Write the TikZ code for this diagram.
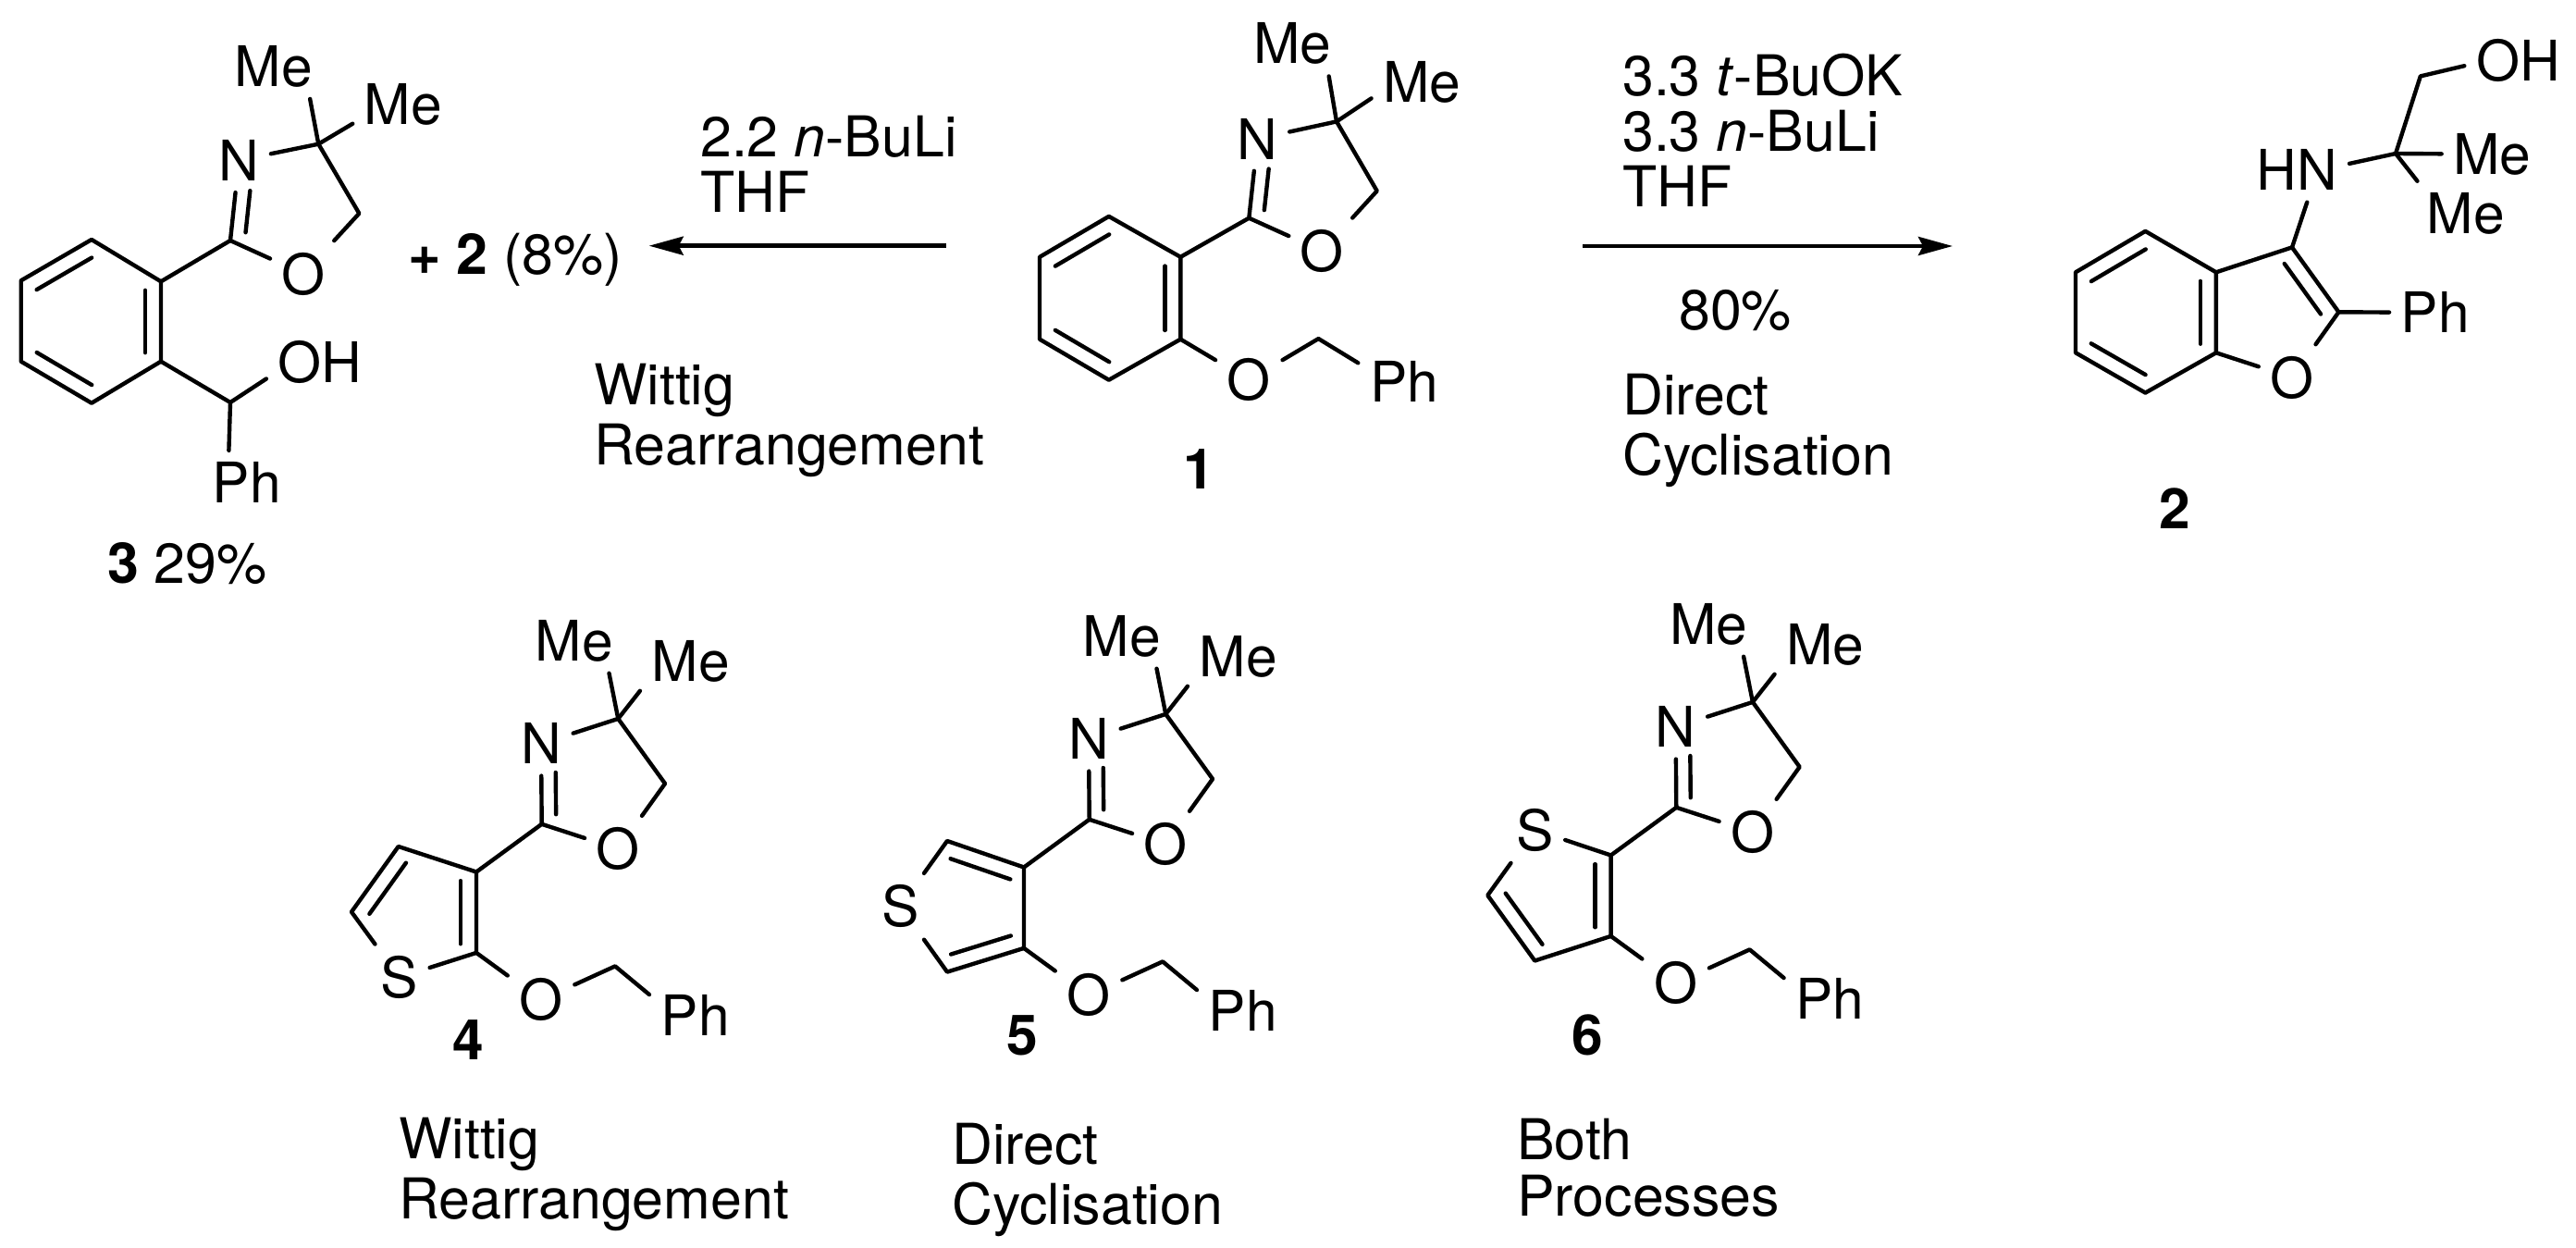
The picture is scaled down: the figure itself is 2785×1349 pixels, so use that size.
\documentclass[tikz,border=0pt]{standalone}
\usepackage{fontspec}
\setmainfont{TeX Gyre Heros}
\usetikzlibrary{arrows.meta, calc}

\begin{document}
\begin{tikzpicture}[x=0.01cm, y=-0.01cm, line width=1.25pt,
    bond/.style={line join=round, line cap=round},
    rxnarrow/.style={-{Stealth[length=0.37cm, width=0.2cm, inset=0.05cm]}},
    atom/.style={font=\fontsize{17.2}{20}\selectfont, inner sep=3pt},
    cmpd/.style={font=\fontsize{17.2}{20}\selectfont\bfseries, inner sep=0pt},
    note/.style={font=\fontsize{17.3}{17.07}\selectfont, align=left, inner sep=0pt, anchor=base west}]
    \useasboundingbox (0, 0) rectangle (2785, 1349);

    \coordinate (b31) at (99, 259);
    \coordinate (b32) at (174, 304.3);
    \coordinate (b33) at (174, 390.7);
    \coordinate (b34) at (99, 435.7);
    \coordinate (b35) at (22.7, 390.7);
    \coordinate (b36) at (22.7, 303.3);
    \coordinate (C3) at (249, 260);
    \coordinate (Cq3) at (344.3, 155.7);
    \coordinate (Cm3) at (388.3, 230.7);
    \coordinate (Ch3) at (249, 435);
    \node[atom] (N3) at (258.3, 173.3) {N};
    \node[atom] (O3) at (328.3, 296) {O};
    \node[atom] (Mea3) at (296, 71.7) {Me};
    \node[atom] (Meb3) at (436, 112.7) {Me};
    \node[atom] (OH3) at (346, 391.7) {OH};
    \node[atom] (Ph3) at (266.7, 521.7) {Ph};
    \draw[bond] (b31) -- (b32) -- (b33) -- (b34) -- (b35) -- (b36) -- cycle;
    \draw[bond] (b32) -- (C3) -- (N3);
    \draw[bond] (N3) -- (Cq3) -- (Cm3) -- (O3) -- (C3);
    \draw[bond] (Cq3) -- (Mea3.-42);
    \draw[bond] (Cq3) -- (Meb3.201);
    \draw[bond] (b33) -- (Ch3) -- (OH3.197);
    \draw[bond] (Ch3) -- (Ph3.119);
    \node[note] (yield3) at (114, 630) {\textbf{3} 29\%};
    \node[note] (plus2) at (439, 297) {\textbf{+ 2} (8\%)};

    \coordinate (b11) at (1198.8, 233.9);
    \coordinate (b12) at (1276.3, 277.8);
    \coordinate (b13) at (1276.3, 366.7);
    \coordinate (b14) at (1198.8, 410.7);
    \coordinate (b15) at (1124, 366.7);
    \coordinate (b16) at (1124, 277.8);
    \coordinate (C1) at (1350.3, 235.7);
    \coordinate (Cq1) at (1445, 131.4);
    \coordinate (Cm1) at (1488.7, 206.4);
    \coordinate (Cb1) at (1425.4, 366.1);
    \node[atom] (N1) at (1359.6, 150) {N};
    \node[atom] (O1) at (1429.5, 271.4) {O};
    \node[atom] (Mea1) at (1397.5, 47.2) {Me};
    \node[atom] (Meb1) at (1537.3, 88.6) {Me};
    \node[atom] (Oe1) at (1350.3, 410.7) {O};
    \node[atom] (Ph1) at (1518, 412.4) {Ph};
    \node[cmpd] (num1) at (1296.3, 507) {1};
    \draw[bond] (b11) -- (b12) -- (b13) -- (b14) -- (b15) -- (b16) -- cycle;
    \draw[bond] (b12) -- (C1) -- (N1);
    \draw[bond] (N1) -- (Cq1) -- (Cm1) -- (O1) -- (C1);
    \draw[bond] (Cq1) -- (Mea1.-42);
    \draw[bond] (Cq1) -- (Meb1.198);
    \draw[bond] (b13) -- (Oe1) -- (Cb1) -- (Ph1.158);

    \coordinate (b21) at (2319.4, 249.9);
    \coordinate (b22) at (2395.9, 294.3);
    \coordinate (b23) at (2395.9, 381.3);
    \coordinate (b24) at (2319.4, 424.6);
    \coordinate (b25) at (2244, 381.3);
    \coordinate (b26) at (2244, 294.3);
    \coordinate (Cc2) at (2478, 267.4);
    \coordinate (Cd2) at (2528.4, 337.3);
    \coordinate (Cq2) at (2590, 166);
    \coordinate (Cm2) at (2616.8, 82.4);
    \node[atom] (O2) at (2478, 408.1) {O};
    \node[atom] (Ph2) at (2632.8, 337.9) {Ph};
    \node[atom] (HN2) at (2483.6, 183.8) {HN};
    \node[atom] (OH2) at (2722.4, 65.1) {OH};
    \node[atom] (Mea2) at (2694.4, 166.7) {Me};
    \node[atom] (Meb2) at (2665.7, 231) {Me};
    \node[cmpd] (num2) at (2351, 550) {2};
    \draw[bond] (b21) -- (b22) -- (b23) -- (b24) -- (b25) -- (b26) -- cycle;
    \draw[bond] (b22) -- (Cc2) -- (Cd2) -- (O2) -- (b23);
    \draw[bond] (Cd2) -- (Ph2);
    \draw[bond] (Cc2) -- (HN2.-73);
    \draw[bond] (HN2.7) -- (Cq2) -- (Cm2) -- (OH2.186);
    \draw[bond] (Cq2) -- (Mea2);
    \draw[bond] (Cq2) -- (Meb2.146);

    \foreach \mol/\dx/\dy in {4/0/0, 5/592/-5, 6/1226.6/-18} {
        \begin{scope}[shift={(\dx, \dy)}]
            \coordinate (C\mol) at (585.7, 890.8);
            \coordinate (Cq\mol) at (668.3, 776.9);
            \coordinate (Cm\mol) at (719, 847);
            \coordinate (Cb\mol) at (665, 1044.4);
            \coordinate (d\mol) at (515, 942.5);
            \coordinate (e\mol) at (515, 1029.9);
            \node[atom] (N\mol) at (585, 803.8) {N};
            \node[atom] (O\mol) at (668.3, 917.7) {O};
            \node[atom] (Mea\mol) at (620.7, 692.5) {Me};
            \node[atom] (Meb\mol) at (746.7, 715.2) {Me};
            \node[atom] (Oe\mol) at (585, 1080.9) {O};
            \node[atom] (Ph\mol) at (751.7, 1097.2) {Ph};
            \draw[bond] (d\mol) -- (C\mol) -- (N\mol);
            \draw[bond] (N\mol) -- (Cq\mol) -- (Cm\mol) -- (O\mol) -- (C\mol);
            \draw[bond] (Cq\mol) -- (Mea\mol.-43);
            \draw[bond] (Cq\mol) -- (Meb\mol.210);
            \draw[bond] (d\mol) -- (e\mol) -- (Oe\mol) -- (Cb\mol) -- (Ph\mol.156);
        \end{scope}
    }

    \coordinate (f4) at (430.7, 915);
    \coordinate (g4) at (380, 985.7);
    \node[atom] (S4) at (431.7, 1056.4) {S};
    \node[cmpd] (num4) at (506.7, 1124) {4};
    \draw[bond] (d4) -- (f4) -- (g4) -- (S4) -- (e4);

    \coordinate (f5) at (1024, 909);
    \coordinate (g5) at (1024, 1050.6);
    \node[atom] (S5) at (973.3, 979.8) {S};
    \node[cmpd] (num5) at (1105, 1119) {5};
    \draw[bond] (d5) -- (f5) -- (S5) -- (g5) -- (e5);

    \coordinate (f6) at (1608.3, 967.8);
    \coordinate (g6) at (1659.3, 1038.5);
    \node[atom] (S6) at (1659.3, 897) {S};
    \node[cmpd] (num6) at (1716.7, 1119) {6};
    \draw[bond] (d6) -- (S6) -- (f6) -- (g6) -- (e6);

    \foreach \p/\q in {b31/b36, b35/b34, b33/b32, b11/b16, b15/b14, b13/b12,
        b21/b26, b25/b24, b23/b22, Cd2/Cc2, f4/g4, e4/d4, d5/f5, g5/e5, f6/g6, e6/d6} {
        \draw[bond] ($(\p)!.11!(\q)!.17cm!90:(\q)$) -- ($(\q)!.11!(\p)!.17cm!-90:(\p)$);
    }
    \foreach \mol in {1, 3, 4, 5, 6} {
        \draw[bond] ($(N\mol)!.36!(C\mol)!.155cm!90:(C\mol)$) -- ($(C\mol)!.12!(N\mol)!.155cm!-90:(N\mol)$);
    }

    \coordinate (tailL) at (1022.7, 265.7);
    \coordinate (tipL) at (701.7, 265.7);
    \coordinate (tailR) at (1711, 266);
    \coordinate (tipR) at (2111, 266);
    \draw[rxnarrow] (tailL) -- (tipL);
    \draw[rxnarrow] (tailR) -- (tipR);

    \node[note] (condL) at (755, 229.3) {2.2 \textit{n}-BuLi\\THF};
    \node[note] (typeL) at (640, 502) {Wittig\\[1.2pt]Rearrangement};
    \node[note] (condR) at (1752, 224) {3.3 \textit{t}-BuOK\\3.3 \textit{n}-BuLi\\THF};
    \node[note] (yieldR) at (1813, 357) {80\%};
    \node[note] (typeR) at (1752, 513) {Direct\\[1.2pt]Cyclisation};
    \node[note] (type4) at (429, 1317) {Wittig\\[1.2pt]Rearrangement};
    \node[note] (type5) at (1027, 1323) {Direct\\[1.2pt]Cyclisation};
    \node[note] (type6) at (1638, 1314) {Both\\Processes};
\end{tikzpicture}
\end{document}
